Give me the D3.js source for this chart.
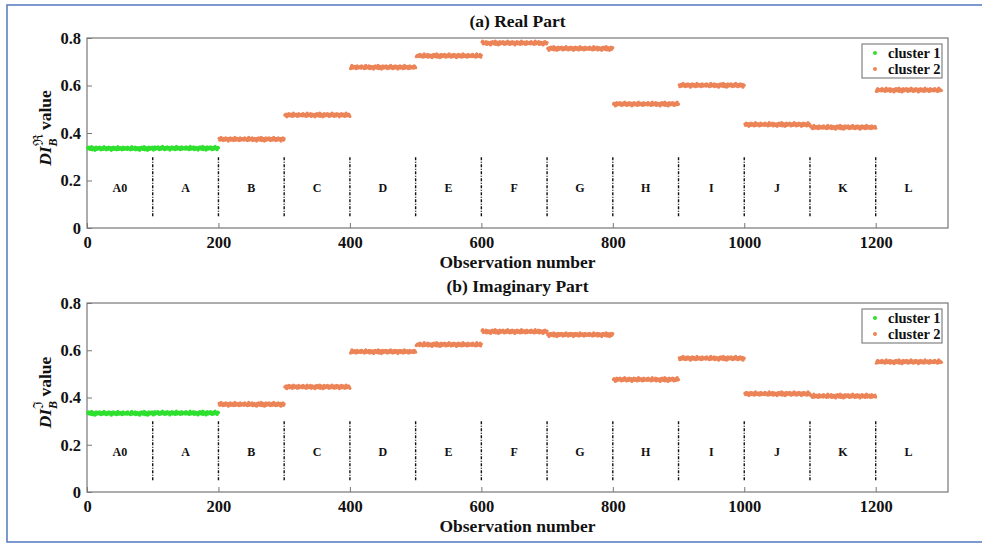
<!DOCTYPE html>
<html>
<head>
<meta charset="utf-8">
<script src="https://cdn.jsdelivr.net/npm/d3@7"></script>
<style>
  html, body { margin: 0; padding: 0; background: #fff; }
  svg { display: block; }
  text { font-family: "Liberation Serif", "Times New Roman", serif; font-weight: bold; fill: #111; }
</style>
</head>
<body>
<svg id="chart" width="982" height="544"></svg>
<script>
// Fault cases, 100 observations each
const segments = ["A0", "A", "B", "C", "D", "E", "F", "G", "H", "I", "J", "K", "L"];
const segmentSize = 100;
// Cluster assignment of each case (1 = normal, 2 = fault)
const segmentCluster = [1, 1, 2, 2, 2, 2, 2, 2, 2, 2, 2, 2, 2];
// Mean index level of each case, real part
const realLevels = [0.335, 0.336, 0.374, 0.476, 0.677, 0.725, 0.779, 0.756, 0.522, 0.601, 0.436, 0.424, 0.581];
// Mean index level of each case, imaginary part
const imagLevels = [0.333, 0.334, 0.371, 0.445, 0.594, 0.624, 0.679, 0.666, 0.476, 0.566, 0.416, 0.406, 0.551];
// Observation-to-observation scatter around the case level (thousandths)
const scatter = [2, -1, 3, 0, -2, 1, 4, -3, 0, 2, -1, -4, 1, 3, -2, 0, 2, -1, 3, 1,
                 -3, 0, 2, -2, 1, 4, -1, 0, -3, 2, 1, -2, 3, 0, -1, 2, -4, 1, 0, 3,
                 -2, 1, 2, -1, -3, 0, 4, -2, 1, -1, 2, 0, -3, 1, 3, -2, 0, 1, -1, 2,
                 -2, 3, 1, -1, 0, -3, 2, 4, -2, 1, 0, -1, 3, -3, 1, 2, -2, 0, 1, -4];
const xTicks = [0, 200, 400, 600, 800, 1000, 1200];
const yTicks = [0, 0.2, 0.4, 0.6, 0.8];
const clusterNames = ["cluster 1", "cluster 2"];
const clusterColors = ["#2fe02f", "#ec8458"];

const svg = d3.select("#chart");

// outer frame
svg.append("rect")
  .attr("x", 7).attr("y", 5).attr("width", 1000).attr("height", 537)
  .attr("fill", "none").attr("stroke", "#5d80c4").attr("stroke-width", 1.6);

function buildSeries(levels) {
  const pts = [];
  levels.forEach((lvl, s) => {
    for (let k = 0; k < segmentSize; k++) {
      const dev = scatter[(k + s * 11) % scatter.length] * 0.002;
      pts.push({ x: s * segmentSize + k + 1, y: lvl + dev, c: segmentCluster[s] });
    }
  });
  return pts;
}

function drawPanel(opts) {
  const { top, bottom, title, symbol, levels } = opts;
  const left = 87, right = 948;
  const x = d3.scaleLinear().domain([0, 1310]).range([left, right]);
  const y = d3.scaleLinear().domain([0, 0.8]).range([bottom, top]);
  const g = svg.append("g");

  // axes box
  g.append("rect")
    .attr("x", left).attr("y", top).attr("width", right - left).attr("height", bottom - top)
    .attr("fill", "#fff").attr("stroke", "#777").attr("stroke-width", 1.2);

  const xAxis = d3.axisBottom(x).tickValues(xTicks).tickSize(-5).tickPadding(8).tickFormat(d3.format("d"));
  const yAxis = d3.axisLeft(y).tickValues(yTicks).tickSize(-5).tickPadding(6).tickFormat(d => d === 0 ? "0" : d3.format(".1f")(d));
  const gx = g.append("g").attr("transform", `translate(0,${bottom})`).call(xAxis);
  const gy = g.append("g").attr("transform", `translate(${left},0)`).call(yAxis);
  [gx, gy].forEach(a => {
    a.select(".domain").remove();
    a.selectAll(".tick line").attr("stroke", "#777");
    a.selectAll(".tick text").attr("font-size", 16.5).attr("fill", "#111")
      .attr("font-family", "'Liberation Serif', serif").attr("font-weight", "bold");
  });

  // case separators
  const bounds = d3.range(1, segments.length).map(i => i * segmentSize);
  g.selectAll("line.sep").data(bounds).join("line")
    .attr("class", "sep")
    .attr("x1", d => x(d)).attr("x2", d => x(d))
    .attr("y1", y(0.05)).attr("y2", y(0.30))
    .attr("stroke", "#111").attr("stroke-width", 1.4)
    .attr("stroke-dasharray", "3,1.5,1,1.5");

  // case labels
  g.selectAll("text.seg").data(segments).join("text")
    .attr("class", "seg")
    .attr("x", (d, i) => x(i * segmentSize + segmentSize / 2))
    .attr("y", y(0.17))
    .attr("dy", "0.35em")
    .attr("text-anchor", "middle")
    .attr("font-size", 12)
    .text(d => d);

  // observations
  const pts = buildSeries(levels);
  g.append("g").selectAll("circle").data(pts).join("circle")
    .attr("cx", d => x(d.x)).attr("cy", d => y(d.y))
    .attr("r", 1.6)
    .attr("fill", d => clusterColors[d.c - 1]);

  // title
  g.append("text").attr("x", (left + right) / 2).attr("y", top - 11)
    .attr("text-anchor", "middle").attr("font-size", 17.5).text(title);

  // x label
  g.append("text").attr("x", (left + right) / 2).attr("y", bottom + 40)
    .attr("text-anchor", "middle").attr("font-size", 17.5).text("Observation number");

  // y label
  const cy = (top + bottom) / 2 - 5;
  const yl = g.append("text")
    .attr("transform", `translate(51,${cy}) rotate(-90)`)
    .attr("text-anchor", "middle")
    .attr("font-size", 17.5);
  yl.append("tspan").attr("font-style", "italic").text("DI");
  yl.append("tspan").attr("font-style", "italic").attr("font-size", 12).attr("dy", 6).text("B");
  yl.append("tspan").attr("font-size", 14).attr("dx", -8).attr("dy", -14).attr("font-weight", "normal").text(symbol);
  yl.append("tspan").attr("dy", 8).text(" value");

  // legend
  const lx = 862, ly = top + 6, lw = 80, lh = 34;
  const lg = g.append("g");
  lg.append("rect").attr("x", lx).attr("y", ly).attr("width", lw).attr("height", lh)
    .attr("fill", "#fff").attr("stroke", "#777").attr("stroke-width", 1.1);
  clusterNames.forEach((name, i) => {
    lg.append("circle").attr("cx", lx + 13).attr("cy", ly + 9 + i * 16).attr("r", 2)
      .attr("fill", clusterColors[i]);
    lg.append("text").attr("x", lx + 26).attr("y", ly + 9 + i * 16).attr("dy", "0.35em")
      .attr("font-size", 14.5).text(name);
  });
}

drawPanel({ top: 38, bottom: 228, title: "(a) Real Part", symbol: "\u211C", levels: realLevels });
drawPanel({ top: 303, bottom: 492, title: "(b) Imaginary Part", symbol: "\u2111", levels: imagLevels });
</script>
</body>
</html>
